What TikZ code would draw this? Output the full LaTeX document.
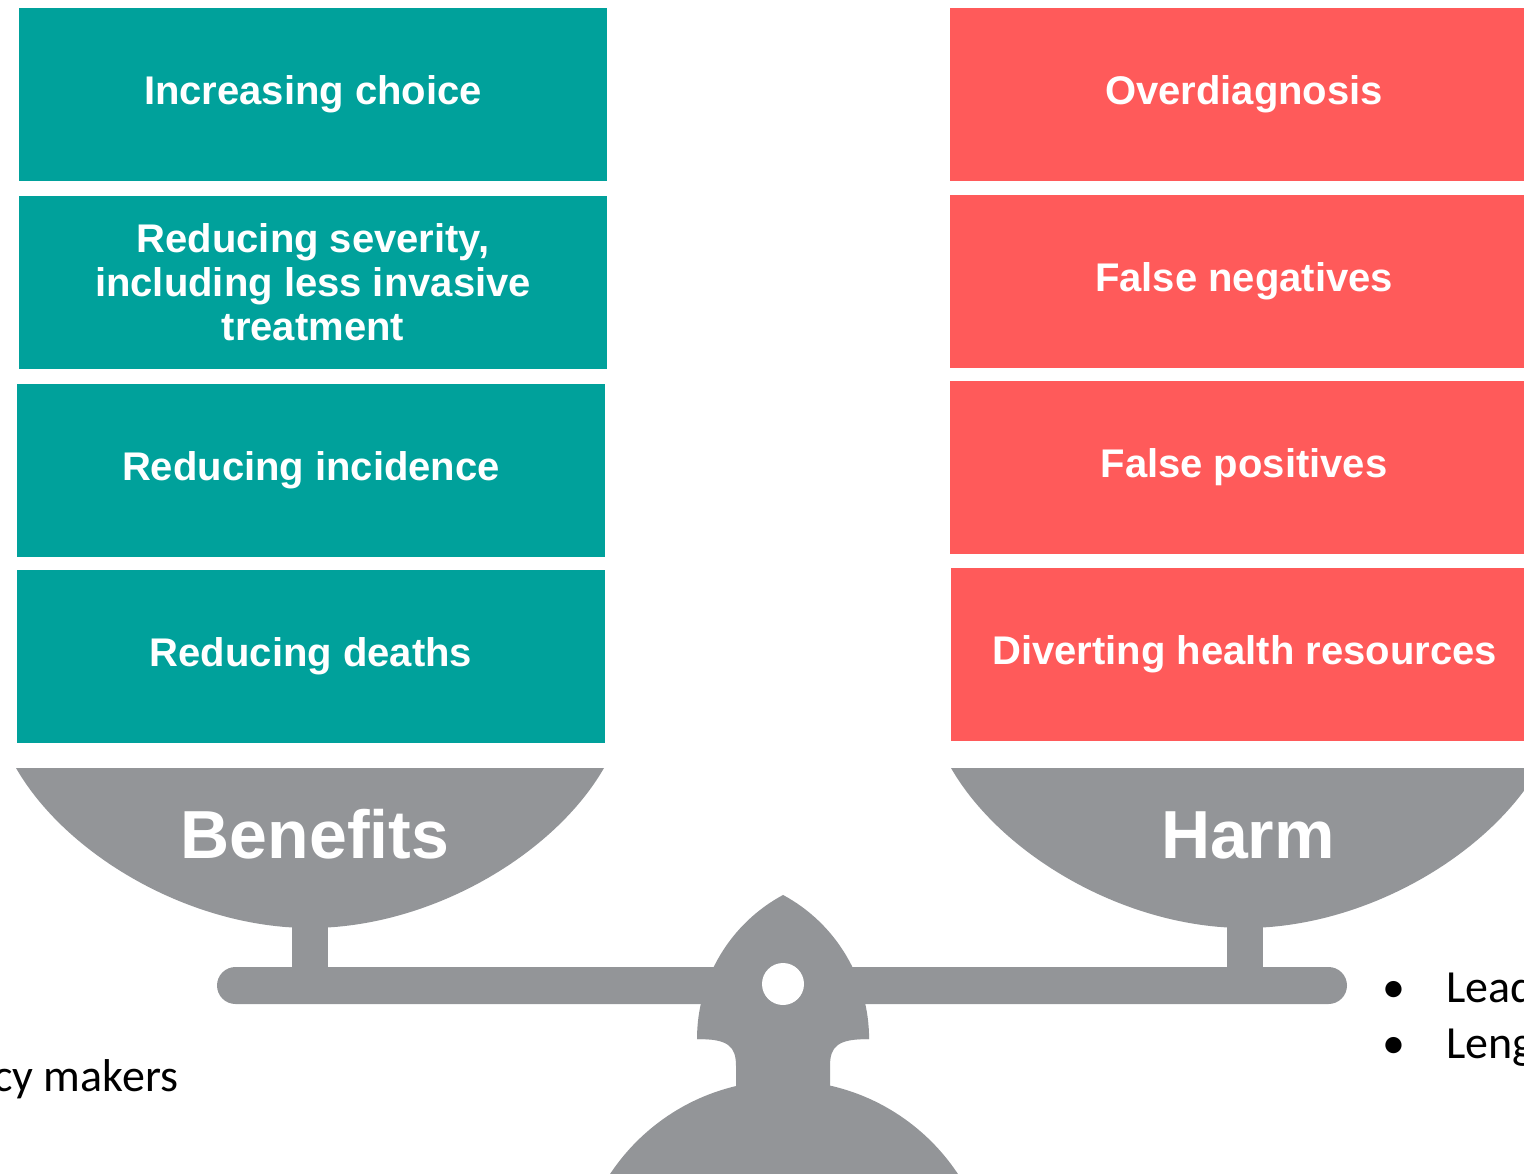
\documentclass[tikz,border=0pt]{standalone}
\usepackage{fontspec}
\setmainfont{Liberation Sans}
\newfontfamily\calibfont{Carlito}
\definecolor{benefitteal}{RGB}{0,161,155}
\definecolor{harmred}{RGB}{255,90,90}
\definecolor{scalegray}{RGB}{147,149,152}
\begin{document}
\begin{tikzpicture}[x=1pt,y=1pt,
  itembox/.style={text=white, font=\bfseries\fontsize{40}{44}\selectfont,
    minimum width=588pt, minimum height=173pt, inner sep=0pt, align=center},
  benbox/.style={itembox, fill=benefitteal},
  harmbox/.style={itembox, fill=harmred},
  panlabel/.style={text=white, font=\bfseries\fontsize{68}{72}\selectfont, inner sep=0pt, anchor=base},
  sidetext/.style={font=\calibfont\fontsize{46}{52}\selectfont, inner sep=0pt, anchor=base west},
  scalepart/.style={fill=scalegray}]
\useasboundingbox (0,0) rectangle (1524,-1174);
\clip (0,0) rectangle (1524,-1174);

% benefit boxes
\node[benbox] (ben1) at (313,-94.5) {Increasing choice};
\node[benbox] (ben2) at (313,-282.5) {Reducing severity,\\including less invasive\\treatment};
\node[benbox] (ben3) at (311,-470.5) {Reducing incidence};
\node[benbox] (ben4) at (311,-656.5) {Reducing deaths};

% harm boxes
\node[harmbox] (harm1) at (1244,-94.5) {Overdiagnosis};
\node[harmbox] (harm2) at (1244,-281.5) {False negatives};
\node[harmbox] (harm3) at (1244,-467.5) {False positives};
\node[harmbox] (harm4) at (1244.5,-654.5) {Diverting health resources};

% pans
\fill[scalepart] (16,-768) .. controls (66,-855) and (190,-928) .. (310,-928)
  .. controls (430,-928) and (554,-855) .. (604,-768) -- cycle;
\fill[scalepart] (951,-768) .. controls (1001,-855) and (1125,-928) .. (1245,-928)
  .. controls (1365,-928) and (1489,-855) .. (1539,-768) -- cycle;
\node[panlabel] (benlabel) at (315,-858) {Benefits};
\node[panlabel] (harmlabel) at (1248,-858) {Harm};

% stems
\fill[scalepart] (292,-915) rectangle (328,-969);
\fill[scalepart] (1227,-915) rectangle (1263,-969);

% beam
\fill[scalepart, rounded corners=18.5pt] (217,-967) rectangle (1347,-1004);

% fulcrum
\fill[scalepart] (697,-1039) arc[start angle=180, end angle=118.3, radius=163.6]
  arc[start angle=61.7, end angle=0, radius=163.6] -- cycle;
\fill[scalepart] (697.2,-1034) -- (697,-1039) .. controls (728,-1039) and (736,-1046) .. (736,-1066)
  -- (736,-1110) -- (830,-1110) -- (830,-1066) .. controls (830,-1046) and (838,-1039) .. (869,-1039)
  -- (868.8,-1034) -- cycle;
\fill[scalepart] (784,-1289) circle[radius=208.5];
\fill[white] (783,-984) circle[radius=21];

% side texts (cut by the picture's edges, as in the reference)
\node[sidetext] (policy) at (-7,-1091) {cy makers};
\node[sidetext, anchor=base] (bulA) at (1394,-1002) {•};
\node[sidetext, anchor=base] (bulB) at (1394,-1058) {•};
\node[sidetext] (lead) at (1446,-1002) {Lead};
\node[sidetext] (leng) at (1446,-1058) {Leng};
\end{tikzpicture}
\end{document}
